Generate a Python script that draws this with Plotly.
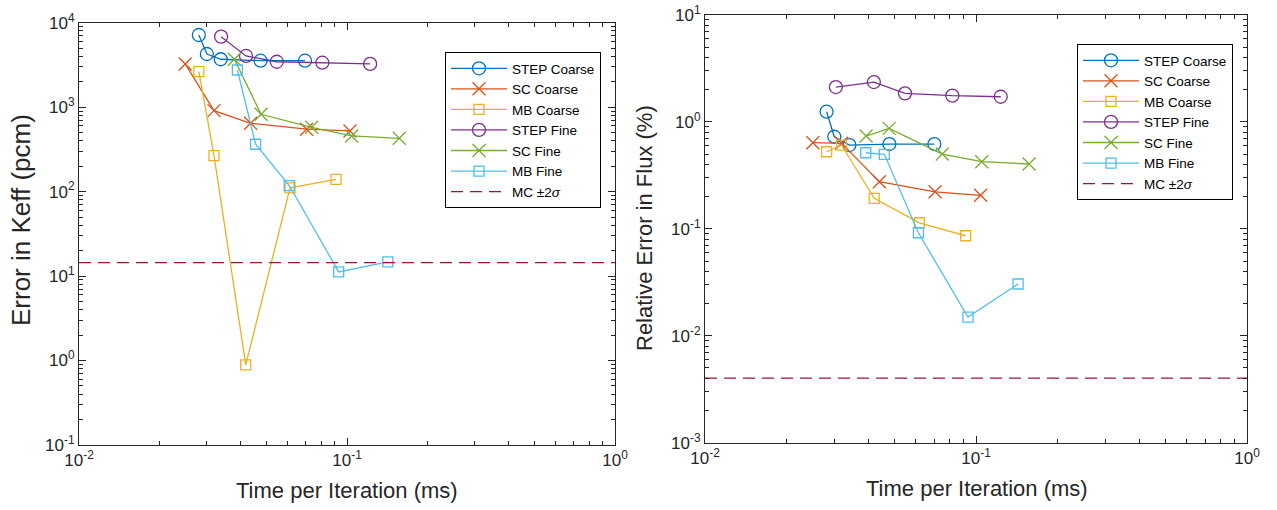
import plotly.graph_objects as go

# ---------------- data ----------------
# Left panel: Error in Keff (pcm) vs time per iteration (ms)
step_coarse_t_k = [0.0280, 0.0300, 0.0338, 0.0476, 0.0697]
step_coarse_keff = [7150, 4260, 3690, 3550, 3550]
sc_coarse_t_k = [0.0249, 0.0319, 0.0437, 0.0707, 0.1026]
sc_coarse_keff = [3250, 910, 645, 548, 523]
mb_coarse_t_k = [0.0280, 0.0319, 0.0419, 0.0613, 0.0910]
mb_coarse_keff = [2630, 267, 0.89, 111, 140]
step_fine_t_k = [0.0339, 0.0420, 0.0547, 0.0809, 0.1220]
step_fine_keff = [6830, 4040, 3450, 3360, 3250]
sc_fine_t_k = [0.0380, 0.0478, 0.0738, 0.1041, 0.1567]
sc_fine_keff = [3700, 824, 578, 456, 428]
mb_fine_t_k = [0.0390, 0.0456, 0.0609, 0.0931, 0.1420]
mb_fine_keff = [2755, 364, 118, 11.2, 14.7]
mc_keff = 14.4

# Right panel: Relative error in flux (%) vs time per iteration (ms)
step_coarse_t_f = [0.0281, 0.0300, 0.0341, 0.0479, 0.0702]
step_coarse_flux = [1.246, 0.727, 0.608, 0.621, 0.621]
sc_coarse_t_f = [0.0250, 0.0319, 0.0440, 0.0706, 0.1040]
sc_coarse_flux = [0.639, 0.631, 0.276, 0.222, 0.206]
mb_coarse_t_f = [0.0281, 0.0319, 0.0421, 0.0618, 0.0916]
mb_coarse_flux = [0.526, 0.608, 0.193, 0.114, 0.0862]
step_fine_t_f = [0.0304, 0.0420, 0.0547, 0.0818, 0.1234]
step_fine_flux = [2.12, 2.36, 1.85, 1.76, 1.72]
sc_fine_t_f = [0.0393, 0.0478, 0.0751, 0.1050, 0.1570]
sc_fine_flux = [0.738, 0.871, 0.501, 0.4245, 0.404]
mb_fine_t_f = [0.0392, 0.0459, 0.0613, 0.0934, 0.1430]
mb_fine_flux = [0.515, 0.498, 0.0919, 0.01496, 0.0305]
mc_flux = 0.00402

x_limits = [0.01, 1]
series_names = ["STEP Coarse", "SC Coarse", "MB Coarse", "STEP Fine", "SC Fine", "MB Fine"]
mc_name = "MC ±2<i>σ</i>"

x_tickvals = [0.01, 0.1, 1]
x_ticktext = ["10<sup>-2</sup>", "10<sup>-1</sup>", "10<sup>0</sup>"]
yk_tickvals = [0.1, 1, 10, 100, 1000, 10000]
yk_ticktext = ["10<sup>-1</sup>", "10<sup>0</sup>", "10<sup>1</sup>", "10<sup>2</sup>", "10<sup>3</sup>", "10<sup>4</sup>"]
yf_tickvals = [0.001, 0.01, 0.1, 1, 10]
yf_ticktext = ["10<sup>-3</sup>", "10<sup>-2</sup>", "10<sup>-1</sup>", "10<sup>0</sup>", "10<sup>1</sup>"]

# ---------------- styling ----------------
colors = ["#0072BD", "#D95319", "#EDB120", "#7E2F8E", "#77AC30", "#4DBEEE"]
symbols = ["circle-open", "x-thin-open", "square-open", "circle-open", "x-thin-open", "square-open"]
sizes = [13, 13, 10, 13, 13, 10]
mc_color = "#A2142F"
FONT = "Liberation Sans, Arial, Helvetica, sans-serif"
AX = "#262626"

left_sets = [
    (step_coarse_t_k, step_coarse_keff), (sc_coarse_t_k, sc_coarse_keff),
    (mb_coarse_t_k, mb_coarse_keff), (step_fine_t_k, step_fine_keff),
    (sc_fine_t_k, sc_fine_keff), (mb_fine_t_k, mb_fine_keff),
]
right_sets = [
    (step_coarse_t_f, step_coarse_flux), (sc_coarse_t_f, sc_coarse_flux),
    (mb_coarse_t_f, mb_coarse_flux), (step_fine_t_f, step_fine_flux),
    (sc_fine_t_f, sc_fine_flux), (mb_fine_t_f, mb_fine_flux),
]

fig = go.Figure()

for panel, sets, mcval, xa, ya, lg in [
    ("L", left_sets, mc_keff, "x", "y", "legend"),
    ("R", right_sets, mc_flux, "x2", "y2", "legend2"),
]:
    for i, (xs, ys) in enumerate(sets):
        fig.add_trace(go.Scatter(
            x=xs, y=ys, name=series_names[i], mode="lines+markers",
            xaxis=xa, yaxis=ya, legend=lg,
            line=dict(color=colors[i], width=1.3),
            marker=dict(symbol=symbols[i], size=sizes[i], color=colors[i],
                        line=dict(color=colors[i], width=1.3)),
        ))
    fig.add_trace(go.Scatter(
        x=x_limits, y=[mcval, mcval], name=mc_name, mode="lines",
        xaxis=xa, yaxis=ya, legend=lg,
        line=dict(color=mc_color, width=1.3, dash="12px,7px"),
    ))

W, H = 1277, 510
def xd(a, b):
    return [a / W, b / W]
def yd(top, bottom):
    return [(H - bottom) / H, (H - top) / H]

common_axis = dict(
    type="log", showline=True, linecolor=AX, linewidth=1, mirror="ticks",
    ticks="inside", ticklen=7, tickcolor=AX, tickwidth=1, showgrid=False,
    zeroline=False, tickmode="array", automargin=False,
    tickfont=dict(family=FONT, size=17, color=AX),
    minor=dict(ticks="inside", ticklen=4, tickcolor=AX, tickwidth=1,
               dtick="D1", showgrid=False),
)

legend_common = dict(xanchor="left", yanchor="top",
                     bordercolor="black", borderwidth=1, bgcolor="white",
                     font=dict(family=FONT, size=13.5, color="black"),
                     itemwidth=56, tracegroupgap=0)

fig.update_layout(
    width=W, height=H, paper_bgcolor="white", plot_bgcolor="white",
    margin=dict(l=0, r=0, t=0, b=0, autoexpand=False),
    font=dict(family=FONT, color=AX),
    xaxis=dict(common_axis, domain=xd(79, 615), range=[-2, 0],
               tickvals=x_tickvals, ticktext=x_ticktext, anchor="y"),
    yaxis=dict(common_axis, domain=yd(22.7, 445), range=[-1, 4],
               tickvals=yk_tickvals, ticktext=yk_ticktext, anchor="x"),
    xaxis2=dict(common_axis, domain=xd(705, 1247), range=[-2, 0],
                tickvals=x_tickvals, ticktext=x_ticktext, anchor="y2"),
    yaxis2=dict(common_axis, domain=yd(15, 442.7), range=[-3, 1],
                tickvals=yf_tickvals, ticktext=yf_ticktext, anchor="x2"),
    legend=dict(legend_common, x=445 / W, y=(H - 52) / H),
    legend2=dict(legend_common, x=1077 / W, y=(H - 44) / H),
    showlegend=True,
)

annos = [
    dict(text="Time per Iteration (ms)", x=347 / W, y=(H - 490) / H, textangle=0, size=22),
    dict(text="Time per Iteration (ms)", x=977 / W, y=(H - 488) / H, textangle=0, size=22),
    dict(text="Error in Keff (pcm)", x=21 / W, y=(H - 220) / H, textangle=-90, size=26),
    dict(text="Relative Error in Flux (%)", x=645 / W, y=(H - 228) / H, textangle=-90, size=22),
]
for a in annos:
    size = a.pop("size")
    fig.add_annotation(xref="paper", yref="paper", showarrow=False,
                       xanchor="center", yanchor="middle",
                       font=dict(family=FONT, size=size, color=AX), **a)

# remove the browser's default 8px page margin so the figure sits at (0, 0)
fig.write_html("out.html", config={"displayModeBar": False},
               post_script="document.body.style.margin='0';document.body.style.overflow='hidden';")
